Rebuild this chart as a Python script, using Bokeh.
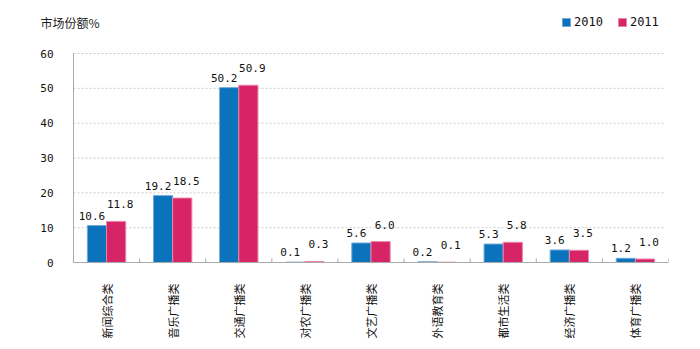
import math
from bokeh.plotting import figure
from bokeh.models import ColumnDataSource, FixedTicker, Label, Legend, LegendItem, CustomJSTickFormatter
from bokeh.core.properties import value
from bokeh.embed import file_html
from bokeh.resources import INLINE

categories = ["新闻综合类", "音乐广播类", "交通广播类", "对农广播类", "文艺广播类",
              "外语教育类", "都市生活类", "经济广播类", "体育广播类"]
v2010 = [10.6, 19.2, 50.2, 0.1, 5.6, 0.2, 5.3, 3.6, 1.2]
v2011 = [11.8, 18.5, 50.9, 0.3, 6.0, 0.1, 5.8, 3.5, 1.0]
y_ticks = [0, 10, 20, 30, 40, 50, 60]
y_tick_labels = ["0", "10", "20", "30", "40", "50", "60"]
y_max = 60

BLUE = "#0b72bc"
PINK = "#d62466"
NUM_FONT = "DejaVu Sans Mono"
CJK_FONT = "Noto Sans CJK SC"

W, H = 700, 349
# plotting area in pixels: x 73..668, y 53 (value 60) .. 262 (value 0)
AX_LEFT, AX_RIGHT, AX_TOP, AX_BOTTOM = 73, 668, 53, 262
FRAME_TOP, FRAME_BOTTOM = 8, 272
n = len(categories)
px_per_x = (AX_RIGHT - AX_LEFT) / n
x_start = -AX_LEFT / px_per_x
px_per_y = (AX_BOTTOM - AX_TOP) / y_max
y_end = (AX_BOTTOM - FRAME_TOP) / px_per_y
y_start = -(FRAME_BOTTOM - AX_BOTTOM) / px_per_y
tick_len = 4 / px_per_y

centers = [i + 0.5 for i in range(n)]
bounds = list(range(n + 1))
src = ColumnDataSource(dict(
    xb=[c - 0.145 for c in centers],
    xp=[c + 0.145 for c in centers],
    v2010=v2010,
    v2011=v2011,
    l2010=[f"{v:.1f}" for v in v2010],
    l2011=[f"{v:.1f}" for v in v2011],
))

p = figure(width=W, height=H, output_backend="svg", toolbar_location=None,
           x_range=(x_start, n), y_range=(y_start, y_end), y_axis_location=None,
           min_border_left=0, min_border_right=W - AX_RIGHT, min_border_top=FRAME_TOP,
           min_border_bottom=H - FRAME_BOTTOM)
p.outline_line_color = None
p.background_fill_color = "white"
p.border_fill_color = "white"
p.xgrid.grid_line_color = None
p.ygrid.grid_line_color = None

# horizontal dashed grid lines
p.segment(x0=[0] * len(y_ticks), y0=y_ticks, x1=[n - 0.05] * len(y_ticks), y1=y_ticks,
          line_color="#cccccc", line_dash="2 2", line_width=1)

r1 = p.vbar(x="xb", top="v2010", width=0.29, bottom=0, source=src, fill_color=BLUE,
            line_color="#6fa9d8", line_width=1)
r2 = p.vbar(x="xp", top="v2011", width=0.29, bottom=0, source=src, fill_color=PINK,
            line_color="#ea86a8", line_width=1)

p.text(x="xb", y="v2010", text="l2010", source=src, x_offset=-5, y_offset=-6,
       text_align="center", text_baseline="bottom", text_font=value(NUM_FONT),
       text_font_size="11px", text_color="#111111")
p.text(x="xp", y="v2011", text="l2011", source=src, x_offset=4, y_offset=-13,
       text_align="center", text_baseline="bottom", text_font=value(NUM_FONT),
       text_font_size="11px", text_color="#111111")

# axis lines and boundary ticks
p.segment(x0=[0], y0=[0], x1=[0], y1=[y_max], line_color="#aaaaaa", line_width=1)
p.segment(x0=[0], y0=[0], x1=[n], y1=[0], line_color="#aaaaaa", line_width=1)
p.segment(x0=bounds, y0=[0] * len(bounds), x1=bounds, y1=[tick_len] * len(bounds),
          line_color="#aaaaaa", line_width=1)

# y tick labels
p.text(x=[0] * len(y_ticks), y=y_ticks, text=y_tick_labels, x_offset=-20,
       text_align="right", text_baseline="middle", text_font=value(NUM_FONT),
       text_font_size="11px", text_color="#111111")

# x axis: category labels at centres
p.xaxis.ticker = FixedTicker(ticks=centers, minor_ticks=[])
p.xaxis.formatter = CustomJSTickFormatter(args=dict(cats=categories),
                                          code="return cats[Math.floor(tick)];")
p.xaxis.axis_line_color = None
p.xaxis.major_tick_line_color = None
p.xaxis.minor_tick_line_color = None
p.xaxis.major_label_orientation = math.pi / 2
p.xaxis.major_label_text_font = CJK_FONT
p.xaxis.major_label_text_font_size = "11px"
p.xaxis.major_label_text_color = "#111111"
p.xaxis.major_label_standoff = 5

p.add_layout(Label(x=40, y=FRAME_BOTTOM - 22, x_units="screen", y_units="screen",
                   text="市场份额%", text_font=CJK_FONT, text_font_size="12px",
                   text_color="#222222", text_baseline="middle"))

legend = Legend(items=[LegendItem(label="2010", renderers=[r1]),
                       LegendItem(label="2011", renderers=[r2])],
                orientation="horizontal", location=(561, FRAME_BOTTOM - 29),
                glyph_width=10, glyph_height=10, label_standoff=3, spacing=14,
                padding=0, margin=0, border_line_color=None, background_fill_alpha=0,
                label_text_font=NUM_FONT, label_text_font_size="12px", label_height=10,
                label_text_color="#111111")
p.add_layout(legend)

open("out.html", "w").write(file_html(p, INLINE))
